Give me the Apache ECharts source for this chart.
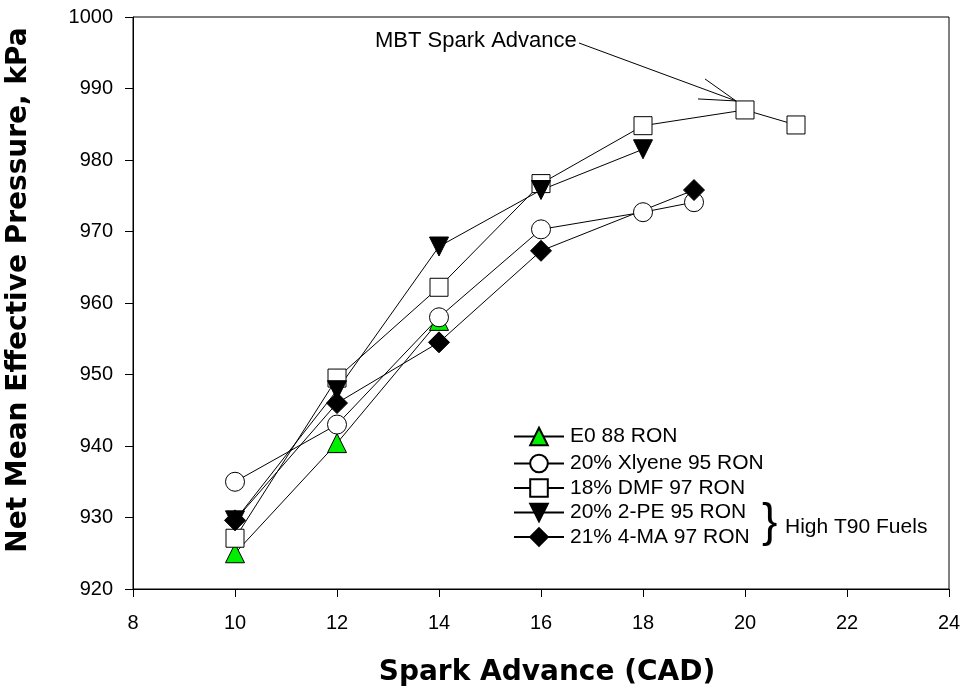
<!DOCTYPE html>
<html><head><meta charset="utf-8">
<script src="https://cdn.jsdelivr.net/npm/echarts@6/dist/echarts.min.js"></script>
<style>html,body{margin:0;padding:0;background:#fff}#c{width:961px;height:692px}</style>
</head><body><div id="c"></div>
<script>
const xTicks = [8, 10, 12, 14, 16, 18, 20, 22, 24];
const seriesNames = ['E0 88 RON', '20% Xlyene 95 RON', '18% DMF 97 RON', '20% 2-PE 95 RON', '21% 4-MA 97 RON'];
const e0 = [[10, 925.0], [12, 940.4], [14, 957.5]];
const xylene = [[10, 935.0], [12, 943.0], [14, 958.0], [16, 970.3], [18, 972.7], [19, 974.1]];
const dmf = [[10, 927.1], [12, 949.5], [14, 962.2], [16, 976.7], [18, 984.8], [20, 987.0], [21, 984.9]];
const pe = [[10, 929.6], [12, 947.8], [14, 967.9], [16, 975.8], [18, 981.5]];
const ma = [[10, 929.6], [12, 946.0], [14, 954.5], [16, 967.3], [19, 975.8]];
const mbtPoint = [20, 987.0];

const font = 'Liberation Sans, Arial, sans-serif';
const titleFont = 'DejaVu Sans, Liberation Sans, sans-serif';
const chart = echarts.init(document.getElementById('c'));
function mk(name, data, symbol, size, color, rot) {
  return {
    name, type: 'line', data, symbol, symbolSize: size, symbolRotate: rot || 0,
    lineStyle: { color: '#000', width: 1 },
    itemStyle: { color: color, borderColor: '#000', borderWidth: 1 },
    emphasis: { disabled: true }, animation: false, z: 3
  };
}
const legendCommon = {
  orient: 'vertical', left: 508, itemWidth: 50, itemHeight: 22, itemGap: 3.5,
  textStyle: { fontFamily: font, fontSize: 21, color: '#000', padding: [0, 0, 0, 1] },
  selectedMode: false
};
chart.setOption({
  animation: false,
  grid: { left: 133, right: 12, top: 17, bottom: 103, show: true, borderColor: '#000', borderWidth: 1,
    containLabel: false, outerBoundsMode: 'none' },
  xAxis: {
    type: 'value', min: 8, max: 24, interval: 2,
    name: 'Spark Advance (CAD)', nameLocation: 'middle', nameGap: 70,
    nameTextStyle: { fontFamily: titleFont, fontSize: 28, fontWeight: 'bold', color: '#000', padding: [0, 0, 0, 12] },
    axisLine: { lineStyle: { color: '#000', width: 1 } },
    axisTick: { inside: false, length: 8, lineStyle: { color: '#000' } },
    axisLabel: { fontFamily: font, fontSize: 20, color: '#000', margin: 24 },
    splitLine: { show: false }
  },
  yAxis: {
    type: 'value', min: 920, max: 1000, interval: 10,
    name: 'Net Mean Effective Pressure, kPa', nameLocation: 'middle', nameGap: 100,
    nameTextStyle: { fontFamily: titleFont, fontSize: 28, fontWeight: 'bold', color: '#000', padding: [0, 0, 0, 26] },
    axisLine: { lineStyle: { color: '#000', width: 1 } },
    axisTick: { inside: false, length: 8, lineStyle: { color: '#000' } },
    axisLabel: { fontFamily: font, fontSize: 20, color: '#000', margin: 20,
      formatter: v => String(v) },
    splitLine: { show: false }
  },
  legend: [
    Object.assign({}, legendCommon, { top: 421, data: seriesNames.slice(0, 1) }),
    Object.assign({}, legendCommon, { top: 448, data: seriesNames.slice(1) })
  ],
  series: [
    mk(seriesNames[0], e0, 'triangle', 19, '#00ee00'),
    mk(seriesNames[1], xylene, 'circle', 19, '#fff'),
    mk(seriesNames[2], dmf, 'rect', 18, '#fff'),
    mk(seriesNames[3], pe, 'triangle', 19, '#000', 180),
    mk(seriesNames[4], ma, 'diamond', 21, '#000')
  ]
});
const tip = chart.convertToPixel({ gridIndex: 0 }, mbtPoint);
const tx = tip[0] - 9, ty = tip[1] - 9;
chart.setOption({
  graphic: [
    { type: 'text', left: 375, top: 30, style: { text: 'MBT Spark Advance', font: '22px ' + font, fill: '#000' } },
    { type: 'line', shape: { x1: 579, y1: 43, x2: tx, y2: ty }, style: { stroke: '#000', lineWidth: 1 } },
    { type: 'line', shape: { x1: tx - 31, y1: ty - 22, x2: tx, y2: ty }, style: { stroke: '#000', lineWidth: 1 } },
    { type: 'line', shape: { x1: tx - 38, y1: ty - 2, x2: tx, y2: ty }, style: { stroke: '#000', lineWidth: 1 } },
    { type: 'text', left: 762, top: 500, style: { text: '}', font: '46px ' + font, fill: '#000' } },
    { type: 'text', left: 785, top: 517, style: { text: 'High T90 Fuels', font: '21px ' + font, fill: '#000' } }
  ]
});
</script></body></html>
